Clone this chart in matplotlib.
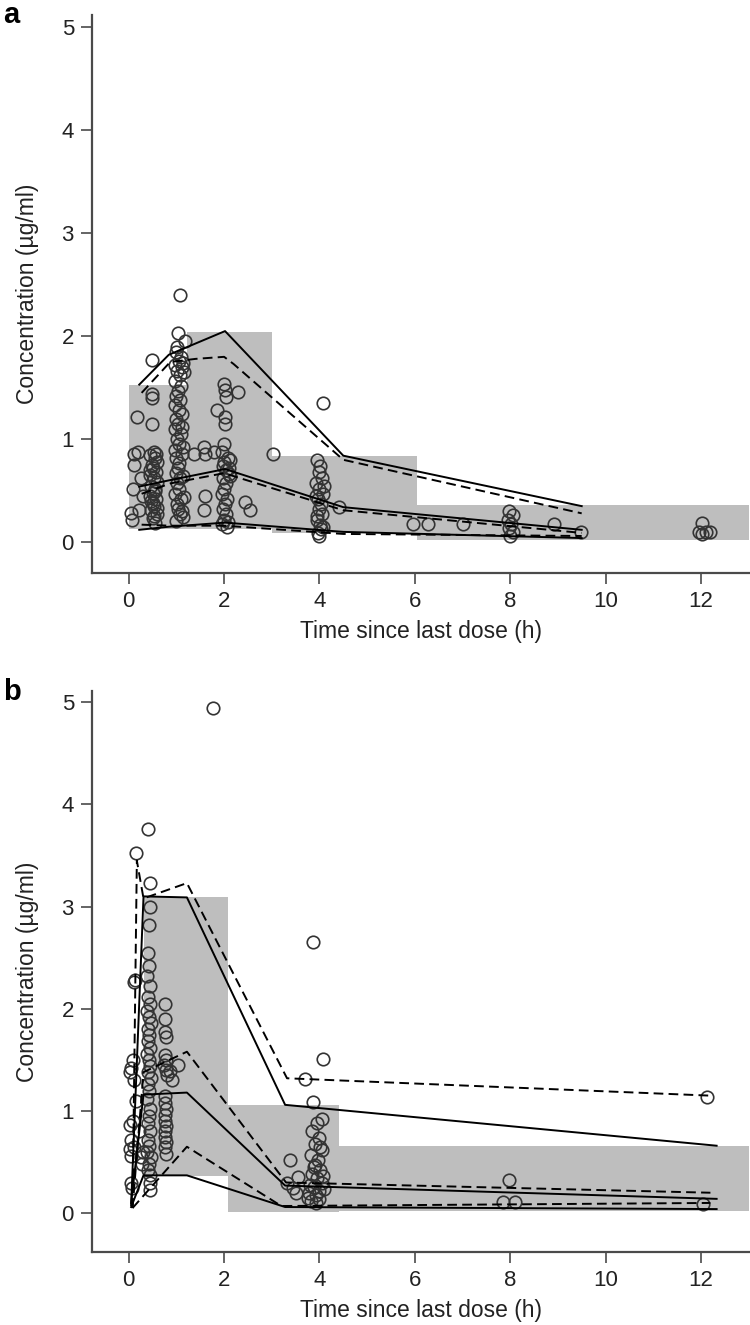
import matplotlib.pyplot as plt

plt.rcParams["font.family"] = ["Liberation Sans", "DejaVu Sans"]
plt.rcParams["font.size"] = 16

GREY = "#bebebe"
AXIS_COLOR = "#4a4a4a"

# ---------------- panel a ----------------
# shaded bins: left edge, right edge, lower and upper value
a_bin_left = [0.0, 1.22, 3.0, 6.04]
a_bin_right = [1.22, 3.0, 6.04, 13.0]
a_bin_low = [0.13, 0.13, 0.09, 0.02]
a_bin_high = [1.53, 2.04, 0.84, 0.36]

# observed percentiles (solid)
a_obs_t = [0.22, 0.84, 2.02, 4.5, 9.5]
a_obs_hi = [1.53, 1.82, 2.05, 0.84, 0.35]
a_obs_med = [0.54, 0.60, 0.71, 0.34, 0.12]
a_obs_lo = [0.12, 0.15, 0.19, 0.10, 0.04]

# predicted percentiles (dashed)
a_pred_hi_t = [0.27, 0.87, 1.4, 2.0, 2.2, 4.5, 9.5]
a_pred_hi = [1.45, 1.75, 1.78, 1.80, 1.73, 0.80, 0.28]
a_pred_t = [0.27, 0.87, 2.0, 4.5, 9.5]
a_pred_med = [0.47, 0.57, 0.67, 0.31, 0.09]
a_pred_lo = [0.17, 0.16, 0.16, 0.08, 0.06]

# observations
a_x = ([0.05, 0.07, 0.08, 0.1, 0.12, 0.17, 0.2, 0.22, 0.25, 0.3]
       + [0.49, 0.49, 0.49, 0.49, 0.52, 0.45, 0.55, 0.6, 0.48, 0.5, 0.57, 0.45, 0.52,
          0.6, 0.47, 0.55, 0.5, 0.44, 0.58, 0.5, 0.53, 0.46, 0.6, 0.5, 0.55,
          0.58, 0.44, 0.56, 0.47, 0.6, 0.52]
       + [1.08, 1.04, 1.17, 1.01, 1.0, 1.1, 1.05, 0.98, 1.12, 1.02, 1.07, 0.97, 1.1,
          1.03, 1.0, 1.08, 0.96, 1.05, 1.12, 1.0, 1.04, 0.98, 1.09, 1.02, 1.06, 0.97,
          1.11, 1.0, 1.05, 1.03, 0.99, 1.08, 1.02, 1.06, 0.98, 1.1, 1.01, 1.04, 1.07, 0.99,
          1.13, 1.15, 1.12, 1.14, 1.13, 1.15, 1.12, 1.14]
       + [1.36, 1.57, 1.6, 1.6, 1.57, 1.78]
       + [1.99, 2.02, 2.05, 2.3, 1.85, 2.02, 2.02, 2.0, 1.95, 2.08, 2.0, 1.97, 2.05,
          2.1, 1.98, 2.03, 2.0, 1.95, 2.07, 2.02, 1.98, 2.04, 2.0, 1.96, 2.06,
          2.12, 2.1, 2.13, 2.09]
       + [2.44, 2.55, 3.02]
       + [4.08, 3.95, 4.02, 3.98, 4.05, 3.92, 4.0, 4.08, 3.96, 4.03, 3.99, 4.06, 3.94,
          4.01, 4.04, 3.97, 4.0, 4.4, 3.93, 4.09, 3.95, 4.07]
       + [5.97, 6.28, 7.02, 7.98, 8.05, 7.95, 8.02, 7.97, 8.05, 8.0, 8.91, 9.48,
          12.02, 11.95, 12.1, 12.02, 12.2])
a_y = ([0.28, 0.22, 0.52, 0.75, 0.86, 1.22, 0.88, 0.31, 0.62, 0.45]
       + [1.77, 1.44, 1.40, 1.15, 0.88, 0.85, 0.82, 0.78, 0.75, 0.72, 0.68, 0.65, 0.62,
          0.58, 0.55, 0.52, 0.48, 0.45, 0.42, 0.38, 0.35, 0.31, 0.27, 0.23, 0.19,
          0.86, 0.70, 0.50, 0.40, 0.33, 0.25]
       + [2.40, 2.03, 1.95, 1.90, 1.85, 1.80, 1.76, 1.72, 1.70, 1.66, 1.62, 1.57, 1.52,
          1.47, 1.42, 1.38, 1.33, 1.28, 1.24, 1.20, 1.15, 1.10, 1.05, 1.00, 0.95, 0.90,
          0.86, 0.82, 0.77, 0.72, 0.67, 0.62, 0.57, 0.52, 0.47, 0.42, 0.37, 0.32, 0.27, 0.21,
          1.74, 1.65, 1.12, 0.92, 0.64, 0.44, 0.30, 0.24]
       + [0.86, 0.92, 0.86, 0.45, 0.31, 0.88]
       + [1.54, 1.48, 1.41, 1.46, 1.28, 1.22, 1.15, 0.95, 0.88, 0.82, 0.78, 0.74, 0.70,
          0.66, 0.62, 0.57, 0.52, 0.47, 0.42, 0.37, 0.32, 0.27, 0.22, 0.18, 0.15,
          0.80, 0.72, 0.64, 0.20]
       + [0.39, 0.31, 0.86]
       + [1.35, 0.80, 0.74, 0.68, 0.62, 0.57, 0.52, 0.47, 0.42, 0.37, 0.32, 0.27, 0.22,
          0.17, 0.13, 0.09, 0.06, 0.34, 0.45, 0.55, 0.25, 0.15]
       + [0.18, 0.18, 0.18, 0.30, 0.26, 0.22, 0.18, 0.14, 0.10, 0.06, 0.18, 0.10,
          0.19, 0.10, 0.10, 0.08, 0.10])

# ---------------- panel b ----------------
b_bin_left = [0.32, 2.08, 4.4]
b_bin_right = [2.08, 4.4, 13.0]
b_bin_low = [0.36, 0.01, 0.02]
b_bin_high = [3.09, 1.06, 0.66]

b_obs_t = [0.05, 0.31, 1.22, 3.28, 12.33]
b_obs_hi = [0.08, 3.10, 3.09, 1.06, 0.66]
b_obs_med = [0.10, 1.16, 1.18, 0.27, 0.14]
b_obs_lo = [0.06, 0.37, 0.37, 0.06, 0.04]

b_pred_hi_t = [0.08, 0.17, 0.31, 1.22, 3.32, 12.2]
b_pred_hi = [0.05, 3.45, 3.08, 3.23, 1.32, 1.15]
b_pred_med_t = [0.08, 0.31, 1.22, 3.3, 12.2]
b_pred_med = [0.05, 1.38, 1.58, 0.30, 0.20]
b_pred_lo_t = [0.08, 1.22, 3.2, 12.2]
b_pred_lo = [0.05, 0.65, 0.07, 0.10]

b_x = ([0.16, 0.1, 0.14, 0.05, 0.08, 0.03, 0.08, 0.05, 0.04, 0.1, 0.05, 0.07, 0.12, 0.15,
        0.03, 0.03, 0.25, 0.3, 0.22, 0.28]
       + [0.41, 0.44, 0.45, 0.42, 0.4, 0.43, 0.38, 0.45, 0.41, 0.44, 0.39, 0.42, 0.46,
          0.4, 0.43, 0.41, 0.45, 0.38, 0.42, 0.44, 0.4, 0.46, 0.41, 0.43, 0.39, 0.45,
          0.42, 0.4, 0.44, 0.41, 0.43, 0.38, 0.46, 0.42, 0.4, 0.44, 0.44, 0.44]
       + [0.77, 0.77, 0.77, 0.78, 0.76, 0.78, 0.75, 0.78, 0.8, 0.77, 0.76, 0.78, 0.77,
          0.76, 0.78, 0.77, 0.76, 0.78, 0.77, 0.78]
       + [0.87, 1.04, 0.9]
       + [1.77]
       + [3.39, 3.5, 3.32, 3.45, 3.55]
       + [3.87, 4.07, 3.7, 3.86, 4.05, 3.95, 3.85, 4.0, 3.9, 4.05, 3.82, 3.97, 3.9, 4.02,
          3.85, 3.95, 4.05, 3.88, 3.98, 3.92, 4.0,
          3.8, 3.78, 4.08, 3.83, 4.1, 3.92, 3.75, 4.02, 3.88]
       + [7.98, 7.86, 8.1, 12.13, 12.05])
b_y = ([3.52, 2.26, 2.28, 1.42, 1.50, 0.86, 0.90, 0.72, 0.56, 0.65, 0.30, 0.25, 1.30, 1.10,
        1.38, 0.63, 0.55, 0.60, 0.80, 0.48]
       + [3.76, 3.23, 3.00, 2.82, 2.55, 2.42, 2.32, 2.22, 2.12, 2.05, 1.98, 1.92, 1.86,
          1.80, 1.74, 1.68, 1.62, 1.56, 1.50, 1.44, 1.38, 1.32, 1.26, 1.20, 1.12, 1.02,
          0.95, 0.88, 0.80, 0.72, 0.66, 0.60, 0.55, 0.48, 0.42, 0.37, 0.30, 0.23]
       + [2.05, 1.90, 1.77, 1.72, 1.55, 1.50, 1.45, 1.40, 1.35, 1.15, 1.08, 1.02, 0.96,
          0.90, 0.85, 0.80, 0.75, 0.70, 0.65, 0.58]
       + [1.39, 1.45, 1.30]
       + [4.94]
       + [0.52, 0.20, 0.30, 0.25, 0.35]
       + [2.65, 1.51, 1.31, 1.09, 0.92, 0.88, 0.80, 0.74, 0.68, 0.62, 0.57, 0.52, 0.47,
          0.42, 0.38, 0.34, 0.30, 0.26, 0.22, 0.18, 0.14,
          0.28, 0.20, 0.36, 0.12, 0.24, 0.10, 0.15, 0.65, 0.45]
       + [0.32, 0.11, 0.11, 1.14, 0.09])


def draw_panel(ax, bins, obs, solid, dashed, ylim):
    left, right, low, high = bins
    widths = [r - l for l, r in zip(left, right)]
    spans = [h - l for l, h in zip(low, high)]
    ax.bar(left, spans, width=widths, bottom=low, align="edge",
           color=GREY, linewidth=0, zorder=1)
    ax.plot(obs[0], obs[1], "o", mfc="none", mec="#333333", ms=9, mew=1.2,
            zorder=2)
    for t, v in solid:
        ax.plot(t, v, color="black", lw=1.4, zorder=3)
    for t, v in dashed:
        ax.plot(t, v, color="black", lw=1.4, ls=(0, (5, 2.7)), zorder=3)

    ax.set_xlim(-0.77, 13.03)
    ax.set_ylim(*ylim)
    ax.set_xticks([0, 2, 4, 6, 8, 10, 12])
    ax.set_yticks([0, 1, 2, 3, 4, 5])
    for side in ["top", "right"]:
        ax.spines[side].set_visible(False)
    for side in ["left", "bottom"]:
        ax.spines[side].set_color(AXIS_COLOR)
        ax.spines[side].set_linewidth(1.6)
    ax.tick_params(direction="out", length=8, width=1.2, color=AXIS_COLOR,
                   labelsize=16, labelcolor="#222222", pad=5)
    ax.set_xlabel("Time since last dose (h)", fontsize=16.5, color="#222222",
                  labelpad=6)
    ax.set_ylabel("Concentration (µg/ml)", fontsize=16.5, color="#222222")
    ax.yaxis.set_label_coords(-0.08, 0.5)


fig = plt.figure(figsize=(7.5, 13.25), dpi=100)
ax_a = fig.add_axes([0.1227, 0.5675, 0.8773, 0.4212])
ax_b = fig.add_axes([0.1227, 0.0551, 0.8773, 0.4234])

draw_panel(ax_a,
           (a_bin_left, a_bin_right, a_bin_low, a_bin_high),
           (a_x, a_y),
           [(a_obs_t, a_obs_hi), (a_obs_t, a_obs_med), (a_obs_t, a_obs_lo)],
           [(a_pred_hi_t, a_pred_hi), (a_pred_t, a_pred_med), (a_pred_t, a_pred_lo)],
           (-0.30, 5.12))
draw_panel(ax_b,
           (b_bin_left, b_bin_right, b_bin_low, b_bin_high),
           (b_x, b_y),
           [(b_obs_t, b_obs_hi), (b_obs_t, b_obs_med), (b_obs_t, b_obs_lo)],
           [(b_pred_hi_t, b_pred_hi), (b_pred_med_t, b_pred_med),
            (b_pred_lo_t, b_pred_lo)],
           (-0.38, 5.11))

fig.text(0.004, 0.999, "a", fontsize=21, fontweight="bold", va="top", ha="left")
fig.text(0.004, 0.488, "b", fontsize=21, fontweight="bold", va="top", ha="left")

fig.savefig("out.png", dpi=100)
